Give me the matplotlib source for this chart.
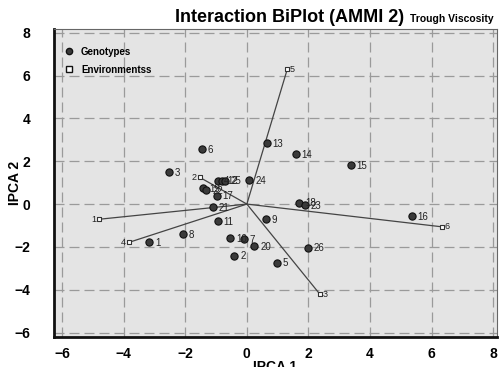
import matplotlib
matplotlib.use("Agg")
import matplotlib.pyplot as plt
from matplotlib.lines import Line2D

plt.rcParams['font.family'] = ['Liberation Sans', 'DejaVu Sans']

# Genotype scores (IPCA1, IPCA2)
gen_labels = ["1", "2", "3", "4", "5", "6", "7", "8", "9", "10", "11", "12", "13",
              "14", "15", "16", "17", "18", "19", "20", "21", "22", "23", "24", "25", "26"]
gen_ipca1 = [-3.17, -0.41, -2.53, -0.93, 0.98, -1.47, -0.10, -2.07, 0.62, -0.55, -0.95, -0.82, 0.64,
             1.58, 3.37, 5.35, -0.98, 1.69, -1.42, 0.24, -1.11, -1.31, 1.88, 0.08, -0.71, 1.97]
gen_ipca2 = [-1.78, -2.41, 1.50, 1.09, -2.74, 2.57, -1.65, -1.40, -0.69, -1.60, -0.79, 1.09, 2.84,
             2.32, 1.82, -0.56, 0.39, 0.06, 0.76, -1.96, -0.13, 0.65, -0.06, 1.12, 1.09, -2.04]

# Environment scores
env_labels = ["1", "2", "3", "4", "5", "6"]
env_ipca1 = [-4.80, -1.53, 2.37, -3.83, 1.31, 6.32]
env_ipca2 = [-0.71, 1.25, -4.21, -1.79, 6.29, -1.06]

x_ticks = [-6, -4, -2, 0, 2, 4, 6, 8]
y_ticks = [-6, -4, -2, 0, 2, 4, 6, 8]

fig = plt.figure(figsize=(4.99, 3.67), dpi=100)
ax = fig.add_axes([54/499, 30/367, 443/499, 308/367])
ax.set_facecolor('#e4e4e4')
ax.set_xlim(-6.26, 8.12)
ax.set_ylim(-6.21, 8.18)

ax.set_xticks(x_ticks)
ax.set_yticks(y_ticks)
ax.grid(True, color='#9a9a9a', linestyle=(0, (8, 4)), linewidth=0.9)
ax.set_axisbelow(True)
ax.tick_params(length=0, labelsize=10, pad=7)
ax.tick_params(axis='y', pad=17)
for lab in ax.get_xticklabels() + ax.get_yticklabels():
    lab.set_fontweight('bold')

for s in ['left', 'bottom']:
    ax.spines[s].set_linewidth(2.0)
    ax.spines[s].set_color('#111111')
for s in ['top', 'right']:
    ax.spines[s].set_linewidth(0.8)
    ax.spines[s].set_color('#666666')

# vectors from origin to environments
for ex, ey in zip(env_ipca1, env_ipca2):
    ax.plot([0, ex], [0, ey], color='#444444', linewidth=0.9, zorder=2)

ax.scatter(env_ipca1, env_ipca2, marker='s', s=12, facecolor='white',
           edgecolor='#333333', linewidths=0.8, zorder=3)
for lab, ex, ey in zip(env_labels, env_ipca1, env_ipca2):
    if ex < 0:
        ax.annotate(lab, (ex, ey), xytext=(-2, 0), textcoords='offset points',
                    ha='right', va='center', fontsize=6.5, color='#222222')
    else:
        ax.annotate(lab, (ex, ey), xytext=(2, 0), textcoords='offset points',
                    ha='left', va='center', fontsize=6.5, color='#222222')

ax.scatter(gen_ipca1, gen_ipca2, marker='o', s=27, facecolor='#3a3a3a',
           edgecolor='#111111', linewidths=0.8, zorder=4)
for lab, gx, gy in zip(gen_labels, gen_ipca1, gen_ipca2):
    ax.annotate(lab, (gx, gy), xytext=(4.3, -0.5), textcoords='offset points',
                ha='left', va='center', fontsize=7, color='#222222', zorder=5)

handles = [Line2D([], [], marker='o', linestyle='none', markersize=4.5,
                  markerfacecolor='#3a3a3a', markeredgecolor='#111111', label='Genotypes'),
           Line2D([], [], marker='s', linestyle='none', markersize=4.5,
                  markerfacecolor='white', markeredgecolor='#111111', label='Environmentss')]
leg = ax.legend(handles=handles, loc='upper left', frameon=False, handletextpad=0.7,
                prop={'weight': 'bold', 'size': 7}, borderaxespad=0.0,
                labelspacing=0.8, handlelength=1.0, bbox_to_anchor=(0.015, 0.955))

fig.text(494/499, 1 - 19/367, 'Trough Viscosity', ha='right', va='center',
         fontsize=7.5, fontweight='bold')
fig.text(404/499, 1 - 18/367, 'Interaction BiPlot (AMMI 2)', ha='right', va='center',
         fontsize=13, fontweight='bold')

ax.set_ylabel('IPCA 2', fontsize=10, fontweight='bold')
ax.yaxis.set_label_coords(-0.072, 0.5)
fig.text(275/499, 1 - 367/367, 'IPCA 1', ha='center', va='center',
         fontsize=10, fontweight='bold')

fig.savefig('out.png', dpi=100)
